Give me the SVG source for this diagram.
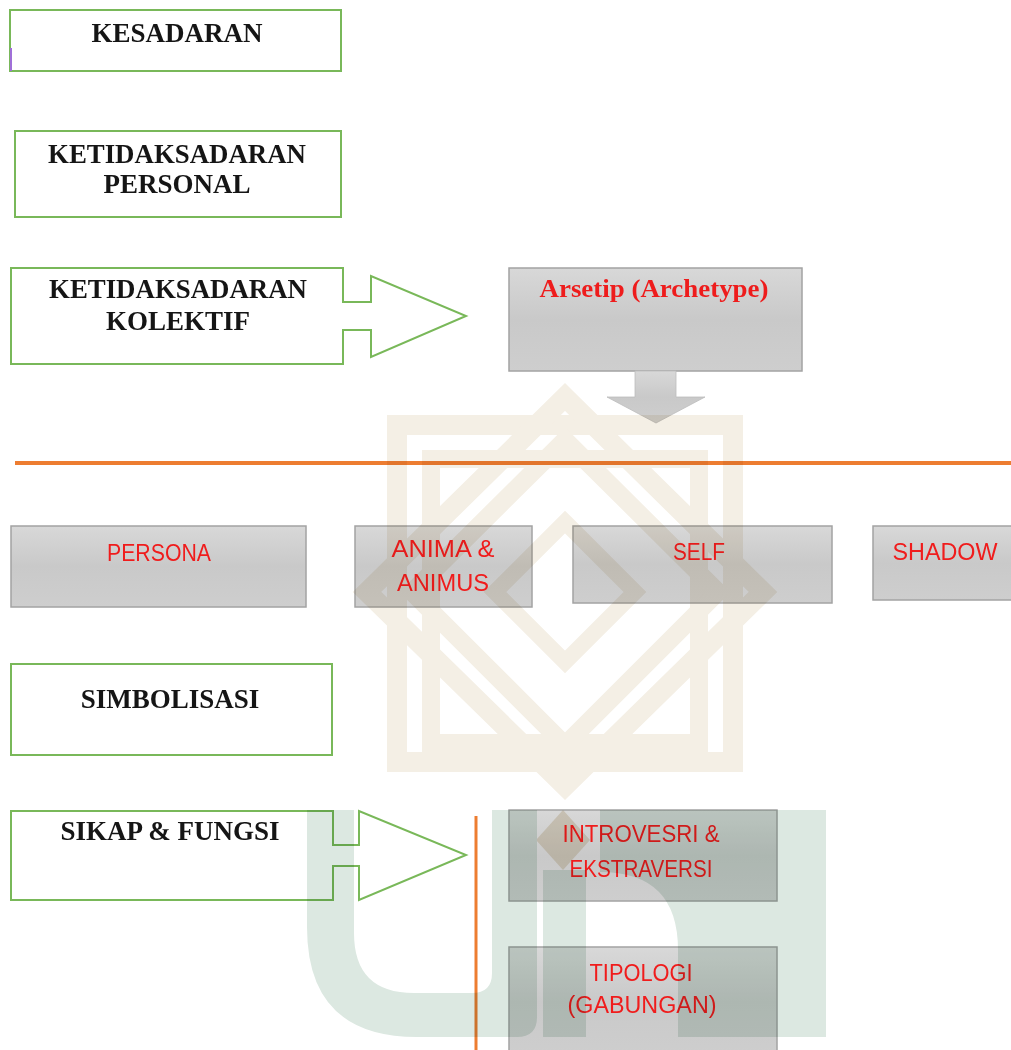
<svg xmlns="http://www.w3.org/2000/svg" width="1011" height="1050" viewBox="0 0 1011 1050">
<defs>
<linearGradient id="grayFill" x1="0" y1="0" x2="0" y2="1">
<stop offset="0" stop-color="#d8d8d8"/>
<stop offset="0.5" stop-color="#c9c9c9"/>
<stop offset="1" stop-color="#cecece"/>
</linearGradient>
<style>
.gbox{fill:#ffffff;stroke:#79b859;stroke-width:2}
.gray{fill:url(#grayFill);stroke:#a3a3a3;stroke-width:1.5}
.ser{font-family:"Liberation Serif","Times New Roman",serif;font-weight:bold;font-size:27px;fill:#151515;text-anchor:middle}
.arch{font-family:"Liberation Serif","Times New Roman",serif;font-weight:bold;font-size:25px;fill:#ee1c1c;text-anchor:middle}
.red{font-family:"Liberation Sans",Arial,sans-serif;font-size:23px;fill:#f01c1c;text-anchor:middle}
.orange{stroke:#ed7d31;fill:none}
.knot{fill:none;stroke:#f4efe5}
.wm{mix-blend-mode:multiply}
.uin{fill:#dce8e1}
</style>
</defs>
<rect width="1011" height="1050" fill="#ffffff"/>

<g id="kesadaran">
<rect class="gbox" x="10" y="10" width="331" height="61"/>
<line x1="11" y1="48" x2="11" y2="71" stroke="#a070d8" stroke-width="2"/>
<text class="ser" x="177" y="42">KESADARAN</text>
</g>

<g id="ketidaksadaran-personal">
<rect class="gbox" x="15" y="131" width="326" height="86"/>
<text class="ser" x="177" y="163" textLength="258" lengthAdjust="spacingAndGlyphs">KETIDAKSADARAN</text>
<text class="ser" x="177" y="193">PERSONAL</text>
</g>

<g id="ketidaksadaran-kolektif">
<path class="gbox" d="M11,268 L343,268 L343,302 L371,302 L371,276 L466,316 L371,357 L371,330 L343,330 L343,364 L11,364 Z"/>
<text class="ser" x="178" y="298" textLength="258" lengthAdjust="spacingAndGlyphs">KETIDAKSADARAN</text>
<text class="ser" x="178" y="330">KOLEKTIF</text>
</g>

<g id="arsetip">
<rect class="gray" x="509" y="268" width="293" height="103"/>
<text class="arch" x="654" y="297" textLength="229" lengthAdjust="spacingAndGlyphs">Arsetip (Archetype)</text>
</g>

<g id="connectors">
<path d="M635,371 L676,371 L676,397 L705,397 L656,423 L607,397 L635,397 Z" fill="url(#grayFill)" stroke="#bdbdbd" stroke-width="0.8"/>
<line class="orange" x1="15" y1="463" x2="1011" y2="463" stroke-width="4"/>
<line class="orange" x1="476" y1="816" x2="476" y2="1050" stroke-width="3"/>
</g>

<g id="persona">
<rect class="gray" x="11" y="526" width="295" height="81"/>
<text class="red" x="159" y="561" textLength="104" lengthAdjust="spacingAndGlyphs">PERSONA</text>
</g>

<g id="anima-animus">
<rect class="gray" x="355" y="526" width="177" height="81"/>
<text class="red" x="443" y="557" textLength="103" lengthAdjust="spacingAndGlyphs">ANIMA &amp;</text>
<text class="red" x="443" y="591" textLength="92" lengthAdjust="spacingAndGlyphs">ANIMUS</text>
</g>

<g id="self">
<rect class="gray" x="573" y="526" width="259" height="77"/>
<text class="red" x="699" y="560" textLength="52" lengthAdjust="spacingAndGlyphs">SELF</text>
</g>

<g id="shadow">
<rect class="gray" x="873" y="526" width="145" height="74"/>
<text class="red" x="945" y="560" textLength="105" lengthAdjust="spacingAndGlyphs">SHADOW</text>
</g>

<g id="simbolisasi">
<rect class="gbox" x="11" y="664" width="321" height="91"/>
<text class="ser" x="170" y="708">SIMBOLISASI</text>
</g>

<g id="sikap-fungsi">
<path class="gbox" d="M11,811 L333,811 L333,845 L359,845 L359,811 L466,855 L359,900 L359,866 L333,866 L333,900 L11,900 Z"/>
<text class="ser" x="170" y="840">SIKAP &amp; FUNGSI</text>
</g>

<g id="introversi-ekstraversi">
<rect class="gray" x="509" y="810" width="268" height="91"/>
<text class="red" x="641" y="842" textLength="157" lengthAdjust="spacingAndGlyphs">INTROVESRI &amp;</text>
<text class="red" x="641" y="877" textLength="143" lengthAdjust="spacingAndGlyphs">EKSTRAVERSI</text>
</g>

<g id="tipologi">
<rect class="gray" x="509" y="947" width="268" height="110"/>
<text class="red" x="641" y="981" textLength="103" lengthAdjust="spacingAndGlyphs">TIPOLOGI</text>
<text class="red" x="642" y="1013" textLength="149" lengthAdjust="spacingAndGlyphs">(GABUNGAN)</text>
</g>

<g id="watermark" class="wm">
<rect class="knot" x="397" y="425" width="336" height="337" stroke-width="20"/>
<polygon class="knot" points="565,397 763,592 565,786 367,592" stroke-width="20"/>
<rect class="knot" x="431" y="459" width="268" height="284" stroke-width="18"/>
<polygon class="knot" points="565,440 718,592 565,745 412,592" stroke-width="18"/>
<polygon class="knot" points="565,522 635,592 565,662 495,592" stroke-width="16"/>
<polygon points="563,810 590,840 563,870 536,840" fill="#ebe3d3"/>
<path class="uin" d="M307,810 L354,810 L354,933 Q354,993 414,993 L472,993 Q492,993 492,973 L492,810 L537,810 L537,1017 Q537,1037 517,1037 L417,1037 Q307,1037 307,927 Z"/>
<rect class="uin" x="543" y="870" width="43" height="167"/>
<path class="uin" d="M600,810 L826,810 L826,1037 L678,1037 L678,950 Q678,872 600,872 Z"/>
</g>
</svg>
